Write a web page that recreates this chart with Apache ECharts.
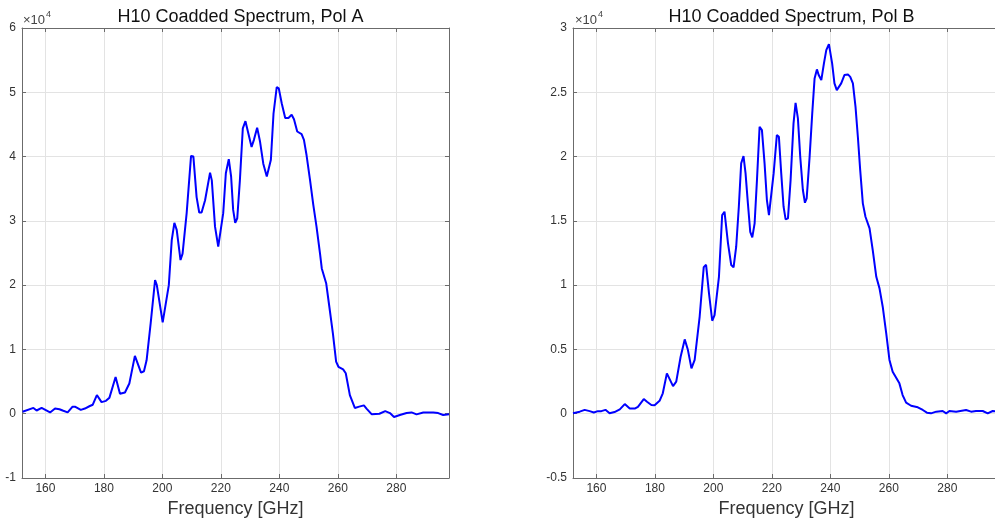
<!DOCTYPE html>
<html lang="en">

<head>
    <meta charset="UTF-8">
    <title>H10 coadded spectrum</title>
    <script type="text/javascript" src="https://cdn.jsdelivr.net/npm/echarts@6.0.0/dist/echarts.min.js"></script>
    <style>
        html, body { margin: 0; padding: 0; background: #fff; }
    </style>
</head>

<body>
    <div id="main" style="width: 995px; height: 518px;"></div>

    <script type="text/javascript">
        // frequency [GHz] and power (in units of 1e4)
        var freqA = [152.2, 155.9, 157.0, 158.7, 161.6, 163.3, 164.8, 165.9, 167.6, 169.3, 170.1, 172.1, 173.5, 175.2, 176.2,
            177.6, 179.2, 180.7, 181.9, 184.0, 185.5, 187.2, 188.7, 190.6, 191.2, 192.7, 193.7, 194.6, 196.0, 197.5, 198.1,
            200.1, 200.6, 202.2, 203.2, 204.1, 204.9, 206.2, 206.9, 208.3, 209.8, 210.6, 211.7, 212.6, 213.4, 214.6, 216.3,
            216.9, 218.0, 219.1, 219.7, 220.8, 221.7, 222.7, 223.5, 224.2, 224.9, 225.6, 226.5, 227.5, 228.4, 229.4, 230.5,
            231.3, 232.4, 233.4, 234.5, 235.7, 236.2, 237.1, 238.0, 239.1, 239.8, 240.8, 242.0, 243.1, 244.2, 245.0, 246.1,
            247.6, 248.4, 249.3, 250.5, 251.6, 252.7, 253.9, 254.5, 256.0, 257.1, 258.3, 259.4, 260.2, 261.8, 262.7, 264.1,
            265.8, 267.3, 268.9, 269.8, 271.6, 274.2, 276.2, 277.8, 279.2, 281.2, 283.5, 285.2, 286.9, 289.2, 292.6, 294.3,
            296.0, 298.0];
        var polA = [0.03, 0.09, 0.05, 0.09, 0.02, 0.08, 0.07, 0.05, 0.02, 0.11, 0.11, 0.06, 0.08, 0.12, 0.14,
            0.29, 0.18, 0.20, 0.25, 0.57, 0.31, 0.33, 0.47, 0.90, 0.89, 0.64, 0.66, 0.83, 1.41, 2.08, 2.00,
            1.42, 1.43, 2.00, 2.70, 2.97, 2.86, 2.39, 2.49, 3.12, 4.01, 4.00, 3.37, 3.13, 3.13, 3.32, 3.75,
            3.63, 2.91, 2.60, 2.62, 3.12, 3.74, 3.96, 3.69, 3.17, 2.97, 3.04, 3.63, 4.44, 4.55, 4.36, 4.15,
            4.26, 4.45, 4.23, 3.89, 3.69, 3.71, 3.95, 4.67, 5.08, 5.06, 4.83, 4.60, 4.60, 4.65, 4.58, 4.39,
            4.35, 4.26, 4.02, 3.63, 3.25, 2.91, 2.49, 2.26, 2.03, 1.66, 1.25, 0.81, 0.73, 0.69, 0.63, 0.29,
            0.09, 0.11, 0.13, 0.08, -0.01, 0.00, 0.04, 0.01, -0.05, -0.02, 0.01, 0.02, -0.01, 0.02, 0.02, 0.01,
            -0.02, -0.01];

        var freqB = [152.0, 154.3, 156.0, 157.7, 159.1, 160.5, 161.7, 163.1, 164.5, 166.2, 168.0, 169.7, 171.4, 173.1, 174.2,
            176.2, 177.3, 178.8, 179.9, 181.6, 182.7, 184.1, 184.7, 186.2, 187.3, 188.8, 190.2, 191.3, 192.5, 193.6, 195.3,
            196.7, 197.5, 198.5, 199.6, 200.4, 201.9, 203.0, 203.8, 205.0, 206.1, 206.9, 207.8, 208.7, 209.5, 210.3, 211.0,
            211.8, 212.6, 213.3, 214.1, 214.9, 215.8, 216.6, 217.5, 218.3, 219.0, 219.5, 220.6, 221.7, 222.4, 223.2, 224.0,
            224.7, 225.5, 226.4, 227.4, 228.1, 228.9, 229.7, 230.6, 231.3, 231.9, 232.9, 233.8, 234.6, 235.4, 236.0, 236.9,
            237.8, 238.6, 239.5, 239.9, 240.6, 241.4, 242.2, 242.8, 243.7, 244.8, 246.0, 246.8, 247.7, 248.6, 249.4, 250.2,
            251.1, 252.0, 253.4, 254.5, 255.7, 256.8, 257.9, 259.1, 260.2, 261.3, 263.6, 264.7, 265.9, 267.6, 269.9, 271.6,
            273.0, 274.4, 276.2, 278.4, 279.6, 280.7, 283.0, 286.4, 288.1, 289.8, 292.1, 293.8, 295.5, 298.0];
        var polB = [0.003, 0.016, 0.03, 0.02, 0.01, 0.02, 0.02, 0.03, 0.003, 0.013, 0.034, 0.075, 0.04, 0.04, 0.054,
            0.114, 0.093, 0.068, 0.065, 0.10, 0.159, 0.314, 0.319, 0.215, 0.249, 0.443, 0.578, 0.495, 0.353, 0.418, 0.754,
            1.14, 1.158, 0.936, 0.723, 0.767, 1.065, 1.545, 1.571, 1.325, 1.156, 1.138, 1.299, 1.61, 1.947, 2.004, 1.869,
            1.636, 1.415, 1.372, 1.481, 1.817, 2.232, 2.206, 1.947, 1.662, 1.545, 1.558, 1.869, 2.167, 2.154, 1.869, 1.61,
            1.512, 1.519, 1.817, 2.258, 2.418, 2.297, 1.998, 1.74, 1.641, 1.675, 1.998, 2.336, 2.608, 2.678, 2.634, 2.595,
            2.725, 2.828, 2.875, 2.867, 2.725, 2.569, 2.517, 2.509, 2.569, 2.634, 2.639, 2.62, 2.569, 2.387, 2.154, 1.895,
            1.636, 1.532, 1.442, 1.27, 1.065, 0.975, 0.832, 0.625, 0.418, 0.327, 0.236, 0.145, 0.086, 0.062, 0.05, 0.029,
            0.008, 0.003, 0.016, 0.021, 0.003, 0.021, 0.016, 0.029, 0.016, 0.021, 0.021, 0.003, 0.021, 0.015];

        var xTicks = [160, 180, 200, 220, 240, 260, 280];
        var titles = ['H10 Coadded Spectrum, Pol A', 'H10 Coadded Spectrum, Pol B'];
        var xName = 'Frequency [GHz]';

        var font = '"Liberation Sans", Arial, sans-serif';
        var axisGray = '#6b6b6b';
        var gridGray = '#e3e3e3';

        function pairs(xs, ys) {
            return xs.map(function (x, i) { return [x, ys[i]]; });
        }

        // bottom/top x axes for a grid (top one only gives the box + ticks)
        function xAxes(gi) {
            var base = {
                type: 'value', gridIndex: gi, min: 152, max: 298,
                axisLine: { show: true, onZero: false, lineStyle: { color: axisGray, width: 1 } },
                axisTick: { show: true, inside: true, length: 4, customValues: xTicks, lineStyle: { color: axisGray } },
                axisLabel: { customValues: xTicks, color: '#333', fontSize: 12, fontFamily: font, margin: 5 },
                splitLine: { show: true, lineStyle: { color: gridGray } },
                name: xName, nameLocation: 'middle', nameGap: 16,
                nameTextStyle: { fontSize: 18, color: '#333', fontFamily: font }
            };
            var top = {
                type: 'value', gridIndex: gi, position: 'top', min: 152, max: 298,
                axisLine: { show: true, onZero: false, lineStyle: { color: axisGray, width: 1 } },
                axisTick: { show: true, inside: true, length: 4, customValues: xTicks, lineStyle: { color: axisGray } },
                axisLabel: { show: false },
                splitLine: { show: false }
            };
            return [base, top];
        }

        function yAxes(gi, min, max, step) {
            var left = {
                type: 'value', gridIndex: gi, min: min, max: max, interval: step,
                axisLine: { show: true, onZero: false, lineStyle: { color: axisGray, width: 1 } },
                axisTick: { show: true, inside: true, length: 4, lineStyle: { color: axisGray } },
                axisLabel: { color: '#333', fontSize: 12, fontFamily: font, margin: 6 },
                splitLine: { show: true, lineStyle: { color: gridGray } }
            };
            var right = {
                type: 'value', gridIndex: gi, position: 'right', min: min, max: max, interval: step,
                axisLine: { show: true, onZero: false, lineStyle: { color: axisGray, width: 1 } },
                axisTick: { show: true, inside: true, length: 4, lineStyle: { color: axisGray } },
                axisLabel: { show: false },
                splitLine: { show: false }
            };
            return [left, right];
        }

        // the "x10^4" exponent labels above each plot
        function expLabel(x) {
            return [
                { type: 'text', left: x, top: 14, style: { text: '\u00d710', font: '13px ' + font, fill: '#444' } },
                { type: 'text', left: x + 23, top: 10, style: { text: '4', font: '9px ' + font, fill: '#444' } }
            ];
        }

        var myChart = echarts.init(document.getElementById('main'));

        myChart.setOption({
            animation: false,
            backgroundColor: '#fff',
            title: [
                { text: titles[0], left: 235.5, textAlign: 'center', top: 3, textStyle: { fontSize: 18, fontWeight: 'normal', color: '#111', fontFamily: font } },
                { text: titles[1], left: 786.5, textAlign: 'center', top: 3, textStyle: { fontSize: 18, fontWeight: 'normal', color: '#111', fontFamily: font } }
            ],
            grid: [
                { left: 22, top: 28, width: 427, height: 450, outerBoundsMode: 'none' },
                { left: 573, top: 28, width: 427, height: 450, outerBoundsMode: 'none' }
            ],
            xAxis: xAxes(0).concat(xAxes(1)),
            yAxis: yAxes(0, -1, 6, 1).concat(yAxes(1, -0.5, 3, 0.5)),
            graphic: expLabel(23).concat(expLabel(575)),
            series: [
                {
                    name: 'Pol A', type: 'line', xAxisIndex: 0, yAxisIndex: 0,
                    data: pairs(freqA, polA), showSymbol: false,
                    lineStyle: { color: '#0000ff', width: 2 }
                },
                {
                    name: 'Pol B', type: 'line', xAxisIndex: 2, yAxisIndex: 2,
                    data: pairs(freqB, polB), showSymbol: false,
                    lineStyle: { color: '#0000ff', width: 2 }
                }
            ]
        });
    </script>

</body>

</html>
